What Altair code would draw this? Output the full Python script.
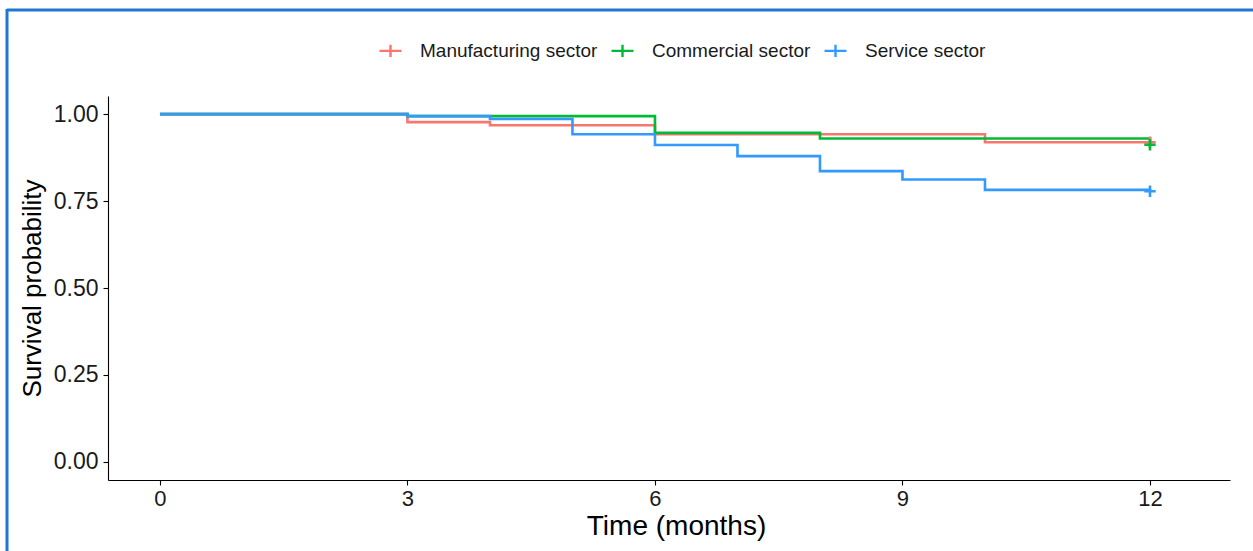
import altair as alt
import pandas as pd

groups = ["Manufacturing sector", "Commercial sector", "Service sector"]
colors = ["#F8766D", "#00BA38", "#3399FF"]

manu_t = [0, 3, 4, 6, 10, 12]
manu_s = [1.0, 0.977, 0.968, 0.942, 0.919, 0.919]
comm_t = [0, 3, 6, 8, 12]
comm_s = [1.0, 0.994, 0.946, 0.930, 0.912]
serv_t = [0, 3, 4, 5, 6, 7, 8, 9, 10, 12]
serv_s = [1.0, 0.994, 0.986, 0.942, 0.911, 0.879, 0.836, 0.812, 0.782, 0.778]

censor_t = [12, 12, 12]
censor_s = [0.919, 0.912, 0.778]

x_ticks = [0, 3, 6, 9, 12]
y_ticks = [0.0, 0.25, 0.5, 0.75, 1.0]

rows = []
for g, ts, ss in zip(groups, [manu_t, comm_t, serv_t], [manu_s, comm_s, serv_s]):
    for t, s in zip(ts, ss):
        rows.append({"group": g, "time": t, "surv": s})
df = pd.DataFrame(rows)
cens = pd.DataFrame({"group": groups, "time": censor_t, "surv": censor_s})

FONT = "Liberation Sans"
color_scale = alt.Scale(domain=groups, range=colors)
xs = alt.Scale(domain=[-0.63, 12.97], nice=False, zero=False)
ys = alt.Scale(domain=[-0.052, 1.052], nice=False, zero=False)

x_enc = alt.X("time:Q", scale=xs, title="Time (months)",
              axis=alt.Axis(values=x_ticks, format="d", grid=False, titlePadding=3,
                            titleFontSize=28, titleX=568))
y_enc = alt.Y("surv:Q", scale=ys, title="Survival probability",
              axis=alt.Axis(values=y_ticks, format=".2f", grid=False, titlePadding=8,
                            titleFontSize=26, labelPadding=5, labelFontSize=23))

legend = alt.Legend(
    title=None, orient="none", direction="horizontal", legendX=270, legendY=-58,
    symbolType="M-1,0H1M0,-0.55V0.55", symbolSize=484, symbolStrokeWidth=2.4,
    labelFontSize=19, labelFont=FONT, labelColor="#1a1a1a", columnPadding=8, labelOffset=17,
    labelLimit=0,
)

plus = "M-1,0H1M0,-1V1"

layers = []
for g in groups:
    layers.append(
        alt.Chart(df).transform_filter(alt.datum.group == g)
        .mark_line(interpolate="step-after", strokeWidth=2.6)
        .encode(x=x_enc, y=y_enc, color=alt.Color("group:N", scale=color_scale, legend=legend))
    )
for g in groups:
    layers.append(
        alt.Chart(cens).transform_filter(alt.datum.group == g)
        .mark_point(shape=plus, size=130, filled=False, strokeWidth=2.6, opacity=1)
        .encode(x=x_enc, y=y_enc, color=alt.Color("group:N", scale=color_scale, legend=legend))
    )

frame_df = pd.DataFrame({"a": [0]})
frame_top = alt.Chart(frame_df).mark_rule(color="#1E78D2", strokeWidth=3).encode(
    x=alt.value(-101), x2=alt.value(1150), y=alt.value(-86))
frame_left = alt.Chart(frame_df).mark_rule(color="#1E78D2", strokeWidth=3).encode(
    x=alt.value(-101), y=alt.value(-87), y2=alt.value(460))

chart = alt.layer(*layers, frame_top, frame_left).properties(
    width=1122, height=384,
    background="white",
    autosize=alt.AutoSizeParams(type="none"),
    padding={"left": 108, "top": 96, "right": 23, "bottom": 71},
).configure_view(stroke=None).configure_axis(
    domainColor="black", domainWidth=1.1, tickColor="black", tickSize=5, tickWidth=1.1,
    labelFont=FONT, labelFontSize=22, labelColor="#1a1a1a", labelPadding=3,
    titleFont=FONT, titleFontWeight="normal", titleColor="black",
)

chart.save("out.html", embed_options={"renderer": "svg", "actions": False})
